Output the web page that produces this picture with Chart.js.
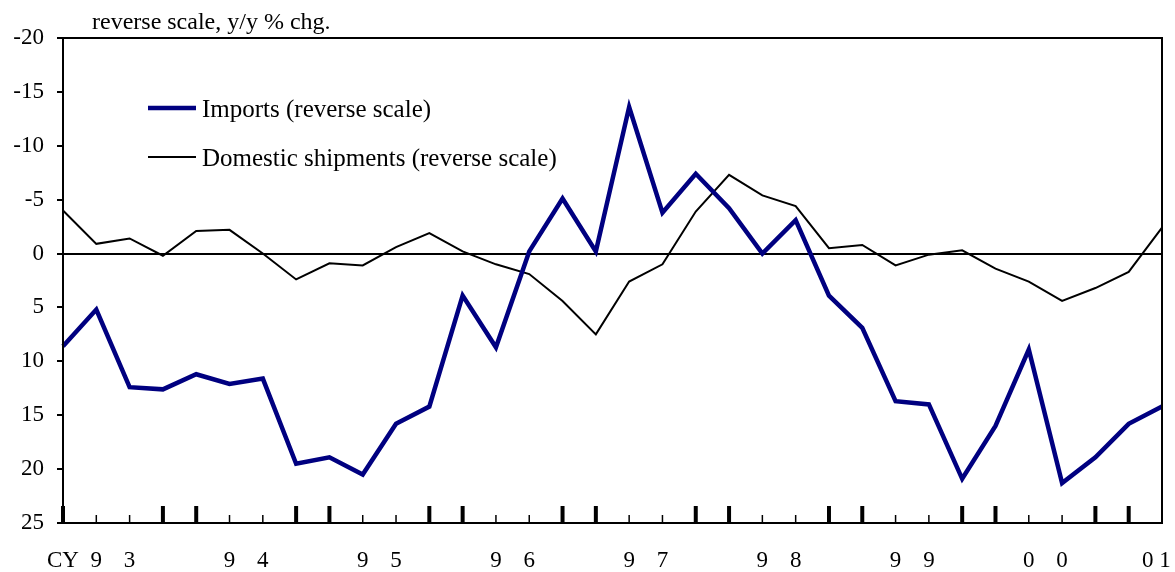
<!DOCTYPE html>
<html>
<head>
<meta charset="utf-8">
<script src="https://cdn.jsdelivr.net/npm/chart.js@4/dist/chart.umd.min.js"></script>
<style>
  html, body { margin: 0; padding: 0; background: #fff; }
  #wrap { width: 1175px; height: 572px; position: relative; }
</style>
</head>
<body>
<div id="wrap"><canvas id="chart"></canvas></div>
<script>
const categories = [
    '93Q1', '93Q2', '93Q3', '93Q4', '94Q1', '94Q2', '94Q3', '94Q4',
    '95Q1', '95Q2', '95Q3', '95Q4', '96Q1', '96Q2', '96Q3', '96Q4',
    '97Q1', '97Q2', '97Q3', '97Q4', '98Q1', '98Q2', '98Q3', '98Q4',
    '99Q1', '99Q2', '99Q3', '99Q4', '00Q1', '00Q2', '00Q3', '00Q4',
    '01Q1', '01Q2'
];
const xTickLabels = [
    'CY', '9', '3', '', '', '9', '4', '', '', '9', '5', '', '', '9', '6', '',
    '', '9', '7', '', '', '9', '8', '', '', '9', '9', '', '', '0', '0', '',
    '', '0 1\u00a0\u00a0'
];
const yTicks = [-20, -15, -10, -5, 0, 5, 10, 15, 20, 25];

const imports = [
    8.6, 5.2, 12.4, 12.6, 11.2, 12.1, 11.6, 19.5, 18.9, 20.5, 15.8, 14.2,
    3.9, 8.7, -0.2, -5.1, -0.2, -13.6, -3.8, -7.4, -4.2, 0.0, -3.1, 3.9,
    6.9, 13.7, 14.0, 20.9, 16.0, 8.9, 21.3, 18.9, 15.8, 14.2
];
const domestic = [
    -4.0, -0.9, -1.4, 0.2, -2.1, -2.2, 0.0, 2.4, 0.9, 1.1, -0.6, -1.9,
    -0.2, 1.0, 1.9, 4.4, 7.5, 2.6, 1.0, -3.9, -7.3, -5.4, -4.4, -0.5,
    -0.8, 1.1, 0.1, -0.3, 1.4, 2.6, 4.4, 3.2, 1.7, -2.4
];

const SERIF = '"Liberation Serif", "Times New Roman", serif';
const COLORS = { imports: '#000080', domestic: '#000000', axis: '#000000' };

// frame, inner x ticks, legend and unit note
const decorations = {
    id: 'decorations',
    afterDatasetsDraw(chart) {
        const { ctx, chartArea: a, scales } = chart;
        const x = scales.x;
        ctx.save();
        ctx.strokeStyle = COLORS.axis;
        ctx.lineWidth = 2;
        ctx.strokeRect(a.left, a.top, a.right - a.left, a.bottom - a.top);

        categories.forEach((c, i) => {
            const px = x.getPixelForValue(i);
            const thick = i % 4 === 0 || i % 4 === 3;
            ctx.lineWidth = thick ? 4 : 1.5;
            ctx.beginPath();
            ctx.moveTo(px, a.bottom);
            ctx.lineTo(px, a.bottom - (thick ? 17 : 8));
            ctx.stroke();
        });

        ctx.fillStyle = '#000';
        ctx.textBaseline = 'alphabetic';
        ctx.textAlign = 'left';
        ctx.font = '24px ' + SERIF;
        ctx.fillText('reverse scale, y/y % chg.', 92, 29);

        ctx.font = '25px ' + SERIF;
        chart.data.datasets.forEach((ds, k) => {
            const ly = 108 + k * 49;
            ctx.strokeStyle = ds.borderColor;
            ctx.lineWidth = k === 0 ? 4.5 : 2;
            ctx.beginPath();
            ctx.moveTo(148, ly);
            ctx.lineTo(196, ly);
            ctx.stroke();
            ctx.fillText(ds.label, 202, ly + 9);
        });
        ctx.restore();
    }
};

new Chart(document.getElementById('chart'), {
    type: 'line',
    data: {
        labels: categories,
        datasets: [
            {
                label: 'Imports (reverse scale)',
                data: imports,
                borderColor: COLORS.imports,
                borderWidth: 4.5,
                pointRadius: 0,
                tension: 0
            },
            {
                label: 'Domestic shipments (reverse scale)',
                data: domestic,
                borderColor: COLORS.domestic,
                borderWidth: 2,
                pointRadius: 0,
                tension: 0
            }
        ]
    },
    options: {
        responsive: true,
        maintainAspectRatio: false,
        animation: false,
        layout: { padding: { left: 0, top: 38, right: 13, bottom: 0 } },
        plugins: {
            legend: { display: false },
            tooltip: { enabled: false }
        },
        scales: {
            x: {
                offset: false,
                border: { display: false },
                grid: { display: false, drawTicks: false },
                ticks: {
                    autoSkip: false,
                    maxRotation: 0,
                    padding: 24,
                    color: '#000',
                    font: { family: SERIF, size: 23 },
                    callback: (v, i) => xTickLabels[i]
                },
                afterFit: s => {
                    s.height = 49;
                    s.paddingLeft = 0;
                    s.paddingRight = 0;
                }
            },
            y: {
                reverse: true,
                min: yTicks[0],
                max: yTicks[yTicks.length - 1],
                border: { display: false },
                grid: {
                    drawOnChartArea: true,
                    color: c => (c.tick && c.tick.value === 0 ? '#000' : 'rgba(0,0,0,0)'),
                    lineWidth: 2,
                    tickColor: '#000',
                    tickLength: 6
                },
                ticks: {
                    stepSize: 5,
                    padding: 13,
                    color: '#000',
                    font: { family: SERIF, size: 23 }
                },
                afterBuildTicks: s => { s.ticks = yTicks.map(v => ({ value: v })); },
                afterFit: s => {
                    s.width = 63;
                    s.paddingTop = 0;
                    s.paddingBottom = 0;
                }
            }
        }
    },
    plugins: [decorations]
});
</script>
</body>
</html>
